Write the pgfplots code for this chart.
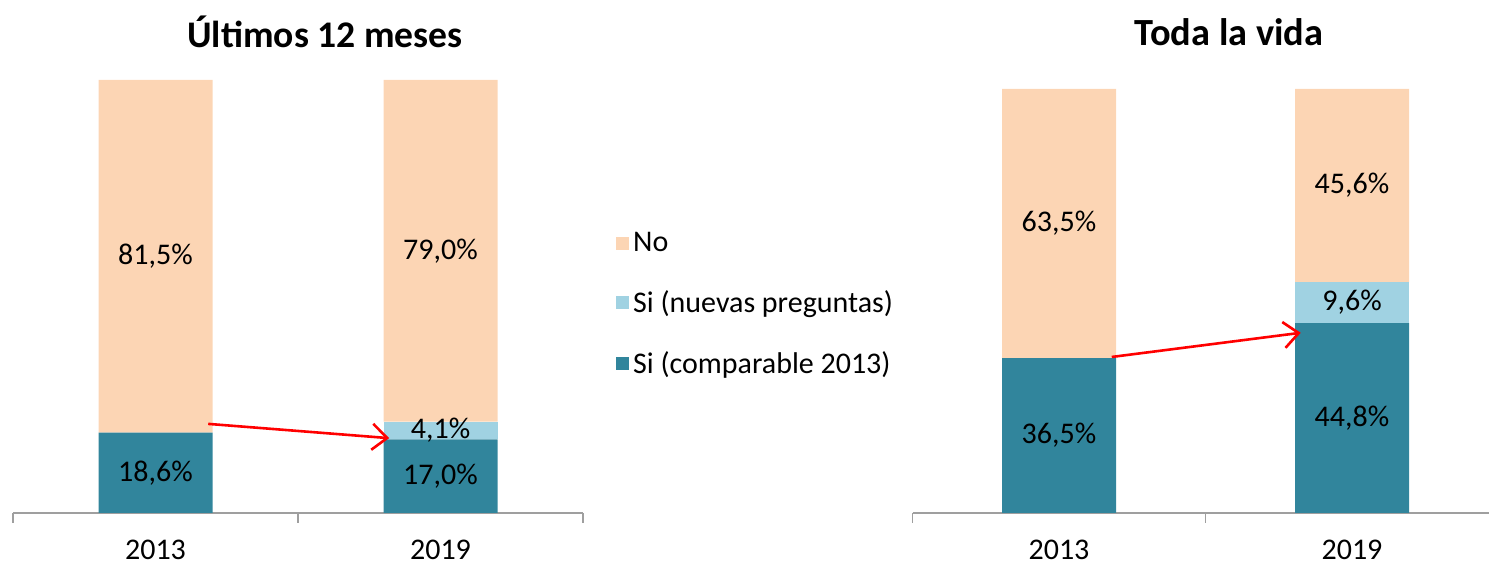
\documentclass[border=0pt]{standalone}
\usepackage{fontspec}
\setmainfont{Carlito}
\usepackage{pgfplots}
\pgfplotsset{compat=1.18}
\usetikzlibrary{arrows.meta}
\definecolor{cTeal}{HTML}{31859C}
\definecolor{cLight}{HTML}{A0D2E2}
\definecolor{cPeach}{HTML}{FCD5B4}
\newcommand\lf{\fontsize{15}{18}\selectfont}
\pgfplotsset{mybar/.style={
  scale only axis, ybar stacked, bar width=57pt, xmin=-0.5, ymin=0,
  axis y line=none, axis x line=bottom, axis line style={-,draw=gray!75, line width=0.7pt},
  xtick={0,1}, xticklabels={2013,2019}, major tick length=0pt,
  minor xtick={-0.5,0.5,1.5}, minor tick length=5pt, tick align=outside,
  xtick pos=bottom,
  tick style={draw=gray!75, line width=0.7pt},
  xticklabel style={font=\lf, inner sep=0pt, yshift=-13.5pt},
  every axis plot/.append style={draw=none},
  clip=false,
}}
\tikzset{lab/.style={font=\lf},
  arr/.style={red, line width=1.3pt, -{Straight Barb[length=7.5pt, width=13pt]}}}
\begin{document}
\begin{tikzpicture}
\useasboundingbox (0,0) rectangle (744.5pt,283pt);
\node[font=\bfseries\fontsize{18.8}{22}\selectfont] at (162.5pt,267pt) {Últimos 12 meses};
\node[font=\bfseries\fontsize{19.2}{22}\selectfont] at (614.5pt,267pt) {Toda la vida};
\begin{axis}[mybar, width=285pt, height=216.5pt, xmax=1.5, ymax=100.1,
  at={(6.5pt,26.5pt)}, anchor=south west,
  legend style={draw=none, fill=none, at={(1.047,0.482)}, anchor=west, font=\lf, row sep=14pt},
  legend cell align=left, reverse legend,
  legend image code/.code={\fill[#1] (0pt,-3.25pt) rectangle (6.5pt,3.25pt);}]
\addplot[fill=cTeal] coordinates {(0,18.6) (1,17.0)};
\addlegendentry{Si (comparable 2013)}
\addplot[fill=cLight] coordinates {(0,0) (1,4.1)};
\addlegendentry{Si (nuevas preguntas)}
\addplot[fill=cPeach] coordinates {(0,81.5) (1,79.0)};
\addlegendentry{No}
\coordinate (L1) at (axis cs:0,9.3);
\coordinate (L2) at (axis cs:0,59.35);
\coordinate (L3) at (axis cs:1,8.5);
\coordinate (L4) at (axis cs:1,19.05);
\coordinate (L5) at (axis cs:1,60.6);
\coordinate (LA) at (axis cs:0.185,20.6);
\coordinate (LB) at (axis cs:0.82,17.3);
\end{axis}
\node[lab] at (L1) {18,6\%};
\node[lab] at (L2) {81,5\%};
\node[lab] at (L3) {17,0\%};
\node[lab] at (L4) {4,1\%};
\node[lab] at (L5) {79,0\%};
\draw[arr] (LA) -- (LB);
\begin{axis}[mybar, width=288.25pt, height=212pt, xmax=1.4676, ymax=100,
  at={(456.25pt,26.5pt)}, anchor=south west]
\addplot[fill=cTeal] coordinates {(0,36.5) (1,44.8)};
\addplot[fill=cLight] coordinates {(0,0) (1,9.6)};
\addplot[fill=cPeach] coordinates {(0,63.5) (1,45.6)};
\coordinate (R1) at (axis cs:0,18.25);
\coordinate (R2) at (axis cs:0,68.25);
\coordinate (R3) at (axis cs:1,22.4);
\coordinate (R4) at (axis cs:1,49.6);
\coordinate (R5) at (axis cs:1,77.2);
\coordinate (RA) at (axis cs:0.18,36.8);
\coordinate (RB) at (axis cs:0.825,42.5);
\end{axis}
\node[lab] at (R1) {36,5\%};
\node[lab] at (R2) {63,5\%};
\node[lab] at (R3) {44,8\%};
\node[lab] at (R4) {9,6\%};
\node[lab] at (R5) {45,6\%};
\draw[arr] (RA) -- (RB);
\end{tikzpicture}
\end{document}
